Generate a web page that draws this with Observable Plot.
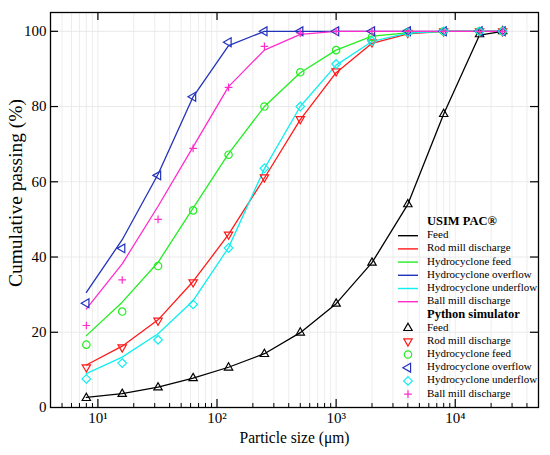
<!DOCTYPE html>
<html>
<head>
<meta charset="utf-8">
<script src="https://cdn.jsdelivr.net/npm/d3@7"></script>
<script src="https://cdn.jsdelivr.net/npm/@observablehq/plot@0.6"></script>
<style>
  body { margin: 0; background: #fff; }
  #wrap { position: relative; width: 550px; height: 455px; font-family: "Liberation Serif", serif; }
  #wrap svg text { font-family: "Liberation Serif", serif; }
  #legend { position: absolute; left: 0; top: 0; pointer-events: none; }
</style>
</head>
<body>
<div id="wrap"></div>
<script>
// ---- data ----
const sizes = [8, 16, 32, 63, 125, 250, 500, 1000, 2000, 4000, 8000, 16000, 25000];

const seriesNames = ["Feed", "Rod mill discharge", "Hydrocyclone feed", "Hydrocyclone overflow", "Hydrocyclone underflow", "Ball mill discharge"];
const seriesColors = ["#000000", "#ff1a1a", "#22ee22", "#2233bb", "#11eeee", "#ff2ccc"];

// USIM PAC (lines)
const feedUsim      = [2.7, 3.7, 5.4, 7.8, 10.7, 14.3, 19.9, 27.6, 38.5, 54.0, 78.0, 99.0, 100];
const rodUsim       = [11.3, 16.3, 23.3, 33.5, 46.0, 61.0, 76.5, 89.0, 96.8, 99.3, 100, 100, 100];
const hcFeedUsim    = [19.1, 28.0, 38.6, 53.0, 67.5, 80.0, 89.0, 95.0, 98.7, 99.6, 100, 100, 100];
const overflowUsim  = [30.6, 44.6, 62.0, 82.6, 96.2, 100, 100, 100, 100, 100, 100, 100, 100];
const underflowUsim = [9.0, 13.4, 19.6, 28.4, 42.5, 63.5, 80.0, 91.0, 97.3, 99.5, 100, 100, 100];
const ballUsim      = [26.2, 38.2, 53.5, 69.3, 85.3, 95.0, 99.2, 100, 100, 100, 100, 100, 100];

// Python simulator (markers)
const feedPy      = [2.5, 3.6, 5.3, 7.8, 10.6, 14.2, 19.9, 27.6, 38.5, 54.0, 78.0, 99.2, 100];
const rodPy       = [10.7, 16.0, 23.1, 33.3, 46.0, 61.2, 76.7, 89.4, 97.1, 99.6, 100, 100, 100];
const hcFeedPy    = [16.7, 25.5, 37.6, 52.4, 67.2, 80.0, 89.1, 95.0, 98.5, 99.8, 100, 100, 100];
const overflowPy  = [27.7, 42.3, 61.7, 82.6, 97.1, 100, 100, 100, 100, 100, 100, 100, 100];
const underflowPy = [7.6, 11.8, 18.0, 27.4, 42.4, 63.6, 80.0, 91.3, 97.4, 99.7, 100, 100, 100];
const ballPy      = [21.8, 33.9, 50.0, 68.9, 85.1, 96.0, 99.5, 100, 100, 100, 100, 100, 100];

const xDecades = [10, 100, 1000, 10000];
const xDecadeLabels = ["10\u00b9", "10\u00b2", "10\u00b3", "10\u2074"];
const yTicks = [0, 20, 40, 60, 80, 100];
const yGrid = [20, 40, 60, 80, 100];
const xLabel = "Particle size (\u03bcm)";
const yLabel = "Cumulative passing (%)";

// ---- custom symbols ----
function triGeom(size) {
  const a = Math.sqrt(4 * size / Math.sqrt(3));
  const h = a * Math.sqrt(3) / 2;
  return {a, h};
}
const triangleUp = { draw(ctx, size) { const {a, h} = triGeom(size);
  ctx.moveTo(0, -2*h/3); ctx.lineTo(a/2, h/3); ctx.lineTo(-a/2, h/3); ctx.closePath(); } };
const triangleDown = { draw(ctx, size) { const {a, h} = triGeom(size);
  ctx.moveTo(0, 2*h/3); ctx.lineTo(-a/2, -h/3); ctx.lineTo(a/2, -h/3); ctx.closePath(); } };
const triangleLeft = { draw(ctx, size) { const {a, h} = triGeom(size);
  ctx.moveTo(-2*h/3, 0); ctx.lineTo(h/3, -a/2); ctx.lineTo(h/3, a/2); ctx.closePath(); } };

const symbols = [triangleUp, triangleDown, "circle", triangleLeft, "diamond2", "plus"];
const symbolR = [3.1, 3.1, 3.7, 3.3, 3.9, 2.6];

// ---- build tables ----
const usimSeries = [feedUsim, rodUsim, hcFeedUsim, overflowUsim, underflowUsim, ballUsim];
const pySeries = [feedPy, rodPy, hcFeedPy, overflowPy, underflowPy, ballPy];

const minorX = [];
for (const dec of [1, 10, 100, 1000, 10000]) for (let k = 1; k <= 9; k++) {
  const v = k * dec; if (v > 4 && v < 50000) minorX.push(v);
}
const minorOnly = minorX.filter(v => !xDecades.includes(v));

const W = 550, H = 455, mL = 50, mR = 12, mT = 12, mB = 48;
const innerW = W - mL - mR, innerH = H - mT - mB;
const FONT = '"Liberation Serif", serif';

const marks = [
  Plot.ruleX(minorX, {stroke: "#e9e9e9", strokeWidth: 0.8}),
  Plot.ruleY(yGrid, {stroke: "#e6e6e6", strokeWidth: 0.9}),
];
usimSeries.forEach((vals, i) => {
  const rows = sizes.map((s, j) => ({size: s, v: vals[j]}));
  marks.push(Plot.line(rows, {x: "size", y: "v", stroke: seriesColors[i], strokeWidth: 1.3}));
});
pySeries.forEach((vals, i) => {
  const rows = sizes.map((s, j) => ({size: s, v: vals[j]}));
  marks.push(Plot.dot(rows, {x: "size", y: "v", stroke: seriesColors[i], fill: "none",
    symbol: () => symbols[i], r: symbolR[i], strokeWidth: 1.2}));
});
marks.push(
  Plot.frame({stroke: "#000", strokeWidth: 1.3}),
  Plot.ruleX(xDecades, {insetTop: innerH - 8, stroke: "#000", strokeWidth: 1.2}),
  Plot.ruleX(minorOnly, {insetTop: innerH - 4, stroke: "#000", strokeWidth: 1}),
  Plot.ruleX(xDecades, {insetBottom: innerH - 8, stroke: "#000", strokeWidth: 1.2}),
  Plot.ruleY(yTicks.filter(v => v > 0), {insetRight: innerW - 8, stroke: "#000", strokeWidth: 1.2}),
  Plot.ruleY(yTicks.filter(v => v > 0), {insetLeft: innerW - 8, stroke: "#000", strokeWidth: 1.2}),
  Plot.axisX({ticks: xDecades, tickFormat: d => xDecadeLabels[xDecades.indexOf(d)], tickSize: 0, tickPadding: 5, fontSize: 15, label: null, fontFamily: FONT}),
  Plot.axisY({ticks: yTicks, tickSize: 0, tickPadding: 4, fontSize: 15, label: null, fontFamily: FONT}),
  Plot.text([xLabel], {frameAnchor: "bottom", textAnchor: "middle", dy: 30, fontSize: 16, lineAnchor: "middle", fill: "#000", fontFamily: FONT})
);

const chart = Plot.plot({
  width: W, height: H,
  marginLeft: mL, marginRight: mR, marginTop: mT, marginBottom: mB,
  x: {type: "log", domain: [4, 50000]},
  y: {domain: [0, 105]},
  style: {fontFamily: FONT, background: "#fff", color: "#000", fontSize: "15px"},
  marks
});
const wrap = document.getElementById("wrap");
wrap.appendChild(chart);

// fix x label length to the reference width
chart.querySelectorAll("text").forEach(t => {
  if (t.textContent === xLabel) { t.setAttribute("textLength", 110); t.setAttribute("lengthAdjust", "spacingAndGlyphs"); }
});

// ---- overlay: y-axis label + legend ----
const ns = "http://www.w3.org/2000/svg";
const lg = document.createElementNS(ns, "svg");
lg.setAttribute("id", "legend");
lg.setAttribute("width", W); lg.setAttribute("height", H);

const yl = document.createElementNS(ns, "text");
yl.setAttribute("x", 0); yl.setAttribute("y", 0);
yl.setAttribute("transform", "translate(18,193) rotate(-90)");
yl.setAttribute("text-anchor", "middle");
yl.setAttribute("dominant-baseline", "middle");
yl.setAttribute("font-family", "Liberation Serif");
yl.setAttribute("font-size", 18);
yl.setAttribute("textLength", 188);
yl.setAttribute("lengthAdjust", "spacingAndGlyphs");
yl.textContent = yLabel;
lg.appendChild(yl);

const rowH = 13.2;
const lineX0 = 398, lineX1 = 418, textX = 427;
function addText(x, y, str, bold) {
  const t = document.createElementNS(ns, "text");
  t.setAttribute("x", x); t.setAttribute("y", y);
  t.setAttribute("font-family", "Liberation Serif");
  t.setAttribute("font-size", bold ? 12.5 : 11);
  if (bold) t.setAttribute("font-weight", "bold");
  t.setAttribute("dominant-baseline", "middle");
  t.textContent = str;
  lg.appendChild(t);
}
let y0 = 222.5;
addText(textX, y0, "USIM PAC\u00ae", true);
seriesNames.forEach((name, i) => {
  const y = y0 + rowH * (i + 1);
  const l = document.createElementNS(ns, "line");
  l.setAttribute("x1", lineX0); l.setAttribute("x2", lineX1);
  l.setAttribute("y1", y); l.setAttribute("y2", y);
  l.setAttribute("stroke", seriesColors[i]); l.setAttribute("stroke-width", 1.4);
  lg.appendChild(l);
  addText(textX, y, name, false);
});
let y1 = y0 + rowH * 7;
addText(textX, y1, "Python simulator", true);
seriesNames.forEach((name, i) => {
  const y = y1 + rowH * (i + 1);
  const p = document.createElementNS(ns, "path");
  const sym = typeof symbols[i] === "string" ? (symbols[i] === "circle" ? d3.symbolCircle : symbols[i] === "diamond2" ? d3.symbolDiamond2 : d3.symbolPlus) : symbols[i];
  p.setAttribute("d", d3.symbol(sym, Math.PI * symbolR[i] * symbolR[i])());
  p.setAttribute("transform", `translate(408,${y})`);
  p.setAttribute("fill", "none"); p.setAttribute("stroke", seriesColors[i]); p.setAttribute("stroke-width", 1.2);
  lg.appendChild(p);
  addText(textX, y, name, false);
});
wrap.appendChild(lg);
</script>
</body>
</html>
